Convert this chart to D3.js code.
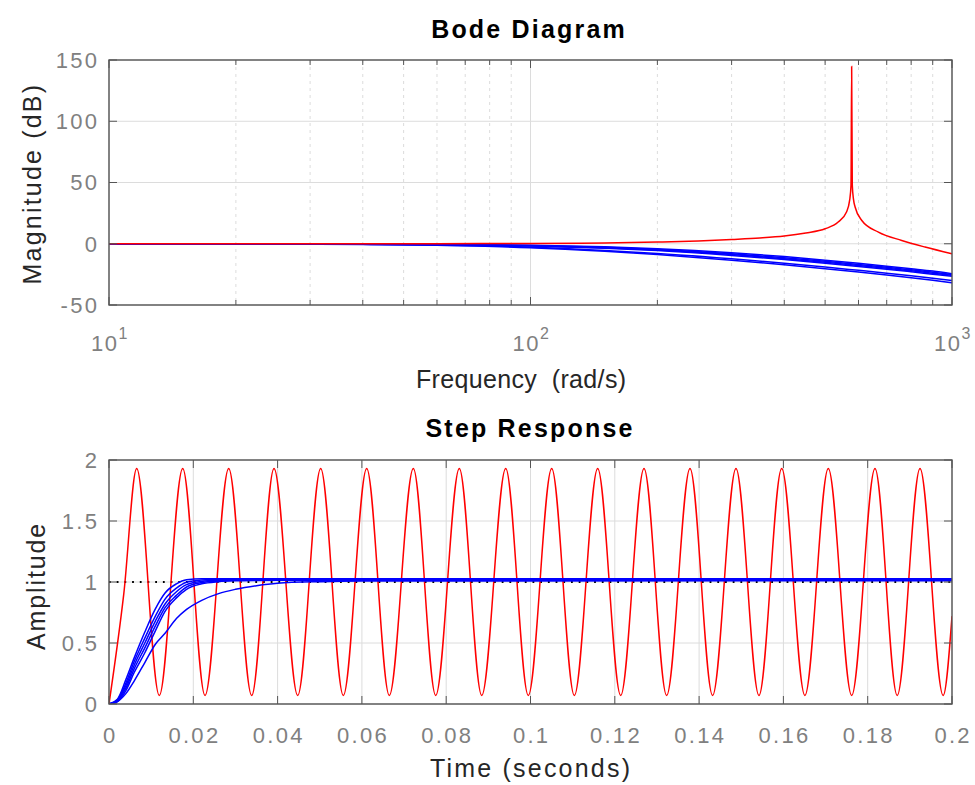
<!DOCTYPE html>
<html>
<head>
<meta charset="utf-8">
<script src="https://cdn.jsdelivr.net/npm/d3@7"></script>
<style>
  html, body { margin: 0; padding: 0; background: #ffffff; }
  svg { display: block; font-family: "Liberation Sans", Arial, Helvetica, sans-serif; }
</style>
</head>
<body>
<svg id="chart" width="975" height="785"></svg>
<script>
// ---------- Bode magnitude data (rad/s, dB) ----------
const bodeFreq = [10, 20, 40, 60, 100, 150, 200, 300, 400, 500, 600, 700, 800, 900, 1000];
const magBlue1 = [0, 0, -0.2, -0.4, -1.2, -2.5, -4.0, -7.3, -10.5, -13.4, -16.0, -18.3, -20.4, -22.3, -24.5];
const magBlue2 = [0, -0.1, -0.2, -0.5, -1.4, -2.9, -4.6, -8.1, -11.4, -14.3, -16.9, -19.2, -21.3, -23.2, -25.2];
const magBlue3 = [0, -0.1, -0.3, -0.6, -1.6, -3.3, -5.1, -8.8, -12.2, -15.1, -17.7, -20.0, -22.1, -24.0, -25.8];
const magBlue4 = [0, -0.1, -0.3, -0.7, -1.8, -3.7, -5.6, -9.5, -12.9, -15.9, -18.5, -20.8, -22.9, -24.8, -26.5];
const magBlue5 = [0, -0.1, -0.5, -1.1, -2.8, -5.5, -7.9, -12.3, -15.9, -19.0, -21.7, -24.0, -26.1, -28.1, -30.0];
const magBlue6 = [0, -0.2, -0.6, -1.3, -3.3, -6.2, -8.8, -13.4, -17.2, -20.4, -23.1, -25.5, -27.7, -29.8, -31.8];

const redBodeFreq = [10, 30, 60, 100, 150, 200, 250, 300, 350, 400, 450, 500, 537, 562, 572, 576, 578, 580, 584, 589, 611, 669, 760, 863, 1000];
const redBodeMag  = [0, 0, 0.1, 0.3, 0.6, 1.4, 2.3, 3.5, 4.7, 6.3, 8.8, 12.2, 17.7, 25.9, 36.0, 48.0, 144.7, 48.0, 36.0, 30.0, 19.0, 9.5, 2.7, -2.7, -8.2];

// ---------- Step response data (s, amplitude) ----------
const stepTime  = [0, 0.002, 0.004, 0.006, 0.0085, 0.011, 0.0133, 0.016, 0.0184, 0.022, 0.026, 0.03, 0.035, 0.04, 0.05, 0.06, 0.2];
const stepBlue1 = [0, 0.04, 0.2, 0.38, 0.59, 0.78, 0.91, 0.985, 1.018, 1.026, 1.026, 1.026, 1.026, 1.026, 1.026, 1.026, 1.026];
const stepBlue2 = [0, 0.035, 0.17, 0.35, 0.54, 0.72, 0.86, 0.95, 0.998, 1.017, 1.022, 1.023, 1.023, 1.023, 1.023, 1.023, 1.023];
const stepBlue3 = [0, 0.03, 0.15, 0.32, 0.5, 0.68, 0.82, 0.92, 0.978, 1.005, 1.015, 1.019, 1.02, 1.02, 1.02, 1.02, 1.02];
const stepBlue4 = [0, 0.025, 0.13, 0.29, 0.46, 0.64, 0.79, 0.89, 0.959, 0.995, 1.008, 1.014, 1.016, 1.017, 1.017, 1.017, 1.017];
const stepBlue5 = [0, 0.02, 0.11, 0.26, 0.42, 0.6, 0.76, 0.87, 0.94, 0.985, 1.003, 1.01, 1.013, 1.014, 1.014, 1.014, 1.014];
const stepBlue6 = [0, 0.02, 0.085, 0.19, 0.34, 0.49, 0.58, 0.7, 0.775, 0.85, 0.905, 0.94, 0.97, 0.99, 1.003, 1.008, 1.011];

// undamped mode: start, alternating peaks / troughs, end value
const redStepTime = [0, 0.0035, 0.00657, 0.01193, 0.01749, 0.02278, 0.0284, 0.03385, 0.03915, 0.04477, 0.05022, 0.05559,
  0.06114, 0.0665, 0.0722, 0.07751, 0.08311, 0.08843, 0.09412, 0.09948, 0.10503, 0.1104, 0.11594, 0.1214,
  0.12693, 0.1323, 0.13784, 0.1432, 0.14875, 0.1542, 0.1596, 0.1651, 0.17065, 0.1762, 0.18173, 0.187,
  0.19241, 0.1979, 0.2];
const redStepAmp = [0, 0.9, 1.93, 0.07, 1.93, 0.07, 1.93, 0.07, 1.93, 0.07, 1.93, 0.07,
  1.93, 0.07, 1.93, 0.07, 1.93, 0.07, 1.93, 0.07, 1.93, 0.07, 1.93, 0.07,
  1.93, 0.07, 1.93, 0.07, 1.93, 0.07, 1.93, 0.07, 1.93, 0.07, 1.93, 0.07,
  1.93, 0.07, 0.72];
const steadyState = 1;

// ---------- Ticks ----------
const bodeXTicks = [10, 100, 1000];
const bodeXExp = ["1", "2", "3"];
const bodeXMinor = [20, 30, 40, 50, 60, 70, 80, 90, 200, 300, 400, 500, 600, 700, 800, 900];
const bodeYTicks = [-50, 0, 50, 100, 150];
const stepXTicks = [0, 0.02, 0.04, 0.06, 0.08, 0.1, 0.12, 0.14, 0.16, 0.18, 0.2];
const stepYTicks = [0, 0.5, 1, 1.5, 2];

// ---------- Layout ----------
const svg = d3.select("#chart");
const L = 109, R = 952;
const top1 = 60, bot1 = 305;
const top2 = 460, bot2 = 704;

const BLUE = "#0000ff", RED = "#ff0000";
const GRID = "#dcdcdc", BOX = "#555555", TICKTXT = "#808080", LABEL = "#262626";
const TICKFONT = 22, TICKSP = 2.3;
const LW = 1.5;

const xBode = d3.scaleLog().domain([10, 1000]).range([L, R]);
const yBode = d3.scaleLinear().domain([-50, 150]).range([bot1, top1]);
const xStep = d3.scaleLinear().domain([0, 0.2]).range([L, R]);
const yStep = d3.scaleLinear().domain([0, 2]).range([bot2, top2]);

const defs = svg.append("defs");
defs.append("clipPath").attr("id", "clip1").append("rect")
  .attr("x", L).attr("y", top1).attr("width", R - L).attr("height", bot1 - top1);
defs.append("clipPath").attr("id", "clip2").append("rect")
  .attr("x", L).attr("y", top2).attr("width", R - L).attr("height", bot2 - top2);

// centred text with letter-spacing: shift by half the trailing gap
function spacedText(g, x, y, str, size, sp, opts = {}) {
  const t = g.append("text").attr("x", x + sp / 2).attr("y", y)
    .attr("text-anchor", opts.anchor || "middle")
    .attr("font-size", size).attr("letter-spacing", sp)
    .attr("fill", opts.fill || LABEL)
    .attr("xml:space", "preserve").text(str);
  if (opts.bold) t.attr("font-weight", "bold");
  if (opts.rotate) t.attr("x", null).attr("y", null)
    .attr("transform", `translate(${x},${y + sp / 2}) rotate(-90)`);
  return t;
}

// ===================== Bode panel =====================
const g1 = svg.append("g");

g1.selectAll("line.minorgrid").data(bodeXMinor).join("line")
  .attr("x1", d => xBode(d)).attr("x2", d => xBode(d))
  .attr("y1", top1).attr("y2", bot1)
  .attr("stroke", GRID).attr("stroke-width", 1).attr("stroke-dasharray", "3,4");
g1.selectAll("line.vgrid").data(bodeXTicks).join("line")
  .attr("x1", d => xBode(d)).attr("x2", d => xBode(d))
  .attr("y1", top1).attr("y2", bot1)
  .attr("stroke", GRID).attr("stroke-width", 1);
g1.selectAll("line.hgrid").data(bodeYTicks).join("line")
  .attr("x1", L).attr("x2", R)
  .attr("y1", d => yBode(d)).attr("y2", d => yBode(d))
  .attr("stroke", GRID).attr("stroke-width", 1);

const bodeLine = d3.line().x(d => xBode(d[0])).y(d => yBode(d[1])).curve(d3.curveMonotoneX);
const plot1 = g1.append("g").attr("clip-path", "url(#clip1)");
[magBlue1, magBlue2, magBlue3, magBlue4, magBlue5, magBlue6].forEach(m => {
  plot1.append("path").datum(d3.zip(bodeFreq, m))
    .attr("d", bodeLine).attr("fill", "none").attr("stroke", BLUE).attr("stroke-width", LW);
});
plot1.append("path").datum(d3.zip(redBodeFreq, redBodeMag))
  .attr("d", bodeLine).attr("fill", "none").attr("stroke", RED).attr("stroke-width", LW);

g1.append("rect").attr("x", L).attr("y", top1).attr("width", R - L).attr("height", bot1 - top1)
  .attr("fill", "none").attr("stroke", BOX).attr("stroke-width", 1.4);
const tk1 = g1.append("g").attr("stroke", BOX).attr("stroke-width", 1);
bodeXTicks.concat(bodeXMinor).forEach(v => {
  const len = bodeXTicks.includes(v) ? 8 : 5;
  tk1.append("line").attr("x1", xBode(v)).attr("x2", xBode(v)).attr("y1", bot1).attr("y2", bot1 - len);
  tk1.append("line").attr("x1", xBode(v)).attr("x2", xBode(v)).attr("y1", top1).attr("y2", top1 + len);
});
bodeYTicks.forEach(v => {
  tk1.append("line").attr("x1", L).attr("x2", L + 8).attr("y1", yBode(v)).attr("y2", yBode(v));
  tk1.append("line").attr("x1", R).attr("x2", R - 8).attr("y1", yBode(v)).attr("y2", yBode(v));
});
g1.selectAll("text.ylab").data(bodeYTicks).join("text")
  .attr("x", L - 12 + TICKSP).attr("y", d => yBode(d)).attr("dy", "0.36em")
  .attr("text-anchor", "end").attr("fill", TICKTXT).attr("font-size", TICKFONT)
  .attr("letter-spacing", TICKSP)
  .text(d => d);
bodeXTicks.forEach((v, i) => {
  const t = g1.append("text").attr("x", xBode(v) + 1).attr("y", 351)
    .attr("text-anchor", "middle").attr("fill", TICKTXT).attr("font-size", TICKFONT)
    .attr("letter-spacing", 1.5);
  t.append("tspan").text("10");
  t.append("tspan").attr("font-size", 16).attr("dy", -12).text(bodeXExp[i]);
});
spacedText(g1, 528, 38, "Bode Diagram", 25, 2.2, { bold: true, fill: "#000" });
spacedText(g1, 521, 388, "Frequency  (rad/s)", 25, 0.35);
spacedText(g1, 41, (top1 + bot1) / 2, "Magnitude (dB)", 25, 2.2, { rotate: true });

// ===================== Step panel =====================
const g2 = svg.append("g");
g2.selectAll("line.vgrid").data(stepXTicks).join("line")
  .attr("x1", d => xStep(d)).attr("x2", d => xStep(d))
  .attr("y1", top2).attr("y2", bot2)
  .attr("stroke", GRID).attr("stroke-width", 1);
g2.selectAll("line.hgrid").data(stepYTicks).join("line")
  .attr("x1", L).attr("x2", R)
  .attr("y1", d => yStep(d)).attr("y2", d => yStep(d))
  .attr("stroke", GRID).attr("stroke-width", 1);

const plot2 = g2.append("g").attr("clip-path", "url(#clip2)");
const stepLine = d3.line().x(d => xStep(d[0])).y(d => yStep(d[1])).curve(d3.curveMonotoneX);

// steady-state reference (dotted)
plot2.append("line").attr("x1", L).attr("x2", R)
  .attr("y1", yStep(steadyState)).attr("y2", yStep(steadyState))
  .attr("stroke", "#000").attr("stroke-width", 1.8).attr("stroke-dasharray", "1.8,5.9");

plot2.append("path").datum(d3.zip(redStepTime, redStepAmp))
  .attr("d", stepLine).attr("fill", "none").attr("stroke", RED).attr("stroke-width", LW);
[stepBlue1, stepBlue2, stepBlue3, stepBlue4, stepBlue5, stepBlue6].forEach(s => {
  plot2.append("path").datum(d3.zip(stepTime, s))
    .attr("d", stepLine).attr("fill", "none").attr("stroke", BLUE).attr("stroke-width", LW);
});

g2.append("rect").attr("x", L).attr("y", top2).attr("width", R - L).attr("height", bot2 - top2)
  .attr("fill", "none").attr("stroke", BOX).attr("stroke-width", 1.4);
const tk2 = g2.append("g").attr("stroke", BOX).attr("stroke-width", 1);
stepXTicks.forEach(v => {
  tk2.append("line").attr("x1", xStep(v)).attr("x2", xStep(v)).attr("y1", bot2).attr("y2", bot2 - 8);
  tk2.append("line").attr("x1", xStep(v)).attr("x2", xStep(v)).attr("y1", top2).attr("y2", top2 + 8);
});
stepYTicks.forEach(v => {
  tk2.append("line").attr("x1", L).attr("x2", L + 8).attr("y1", yStep(v)).attr("y2", yStep(v));
  tk2.append("line").attr("x1", R).attr("x2", R - 8).attr("y1", yStep(v)).attr("y2", yStep(v));
});
const fmtStep = d => d === 0 ? "0" : String(+d.toFixed(2));
g2.selectAll("text.ylab").data(stepYTicks).join("text")
  .attr("x", L - 12 + TICKSP).attr("y", d => yStep(d)).attr("dy", "0.36em")
  .attr("text-anchor", "end").attr("fill", TICKTXT).attr("font-size", TICKFONT)
  .attr("letter-spacing", TICKSP)
  .text(d => fmtStep(d));
g2.selectAll("text.xlab").data(stepXTicks).join("text")
  .attr("x", d => xStep(d) + TICKSP / 2).attr("y", 743)
  .attr("text-anchor", "middle").attr("fill", TICKTXT).attr("font-size", TICKFONT)
  .attr("letter-spacing", TICKSP)
  .text(d => fmtStep(d));
spacedText(g2, 529, 437, "Step Response", 25, 2.2, { bold: true, fill: "#000" });
spacedText(g2, 530, 777, "Time (seconds)", 25, 2.2);
spacedText(g2, 45, (top2 + bot2) / 2 + 3, "Amplitude", 25, 1.9, { rotate: true });
</script>
</body>
</html>
